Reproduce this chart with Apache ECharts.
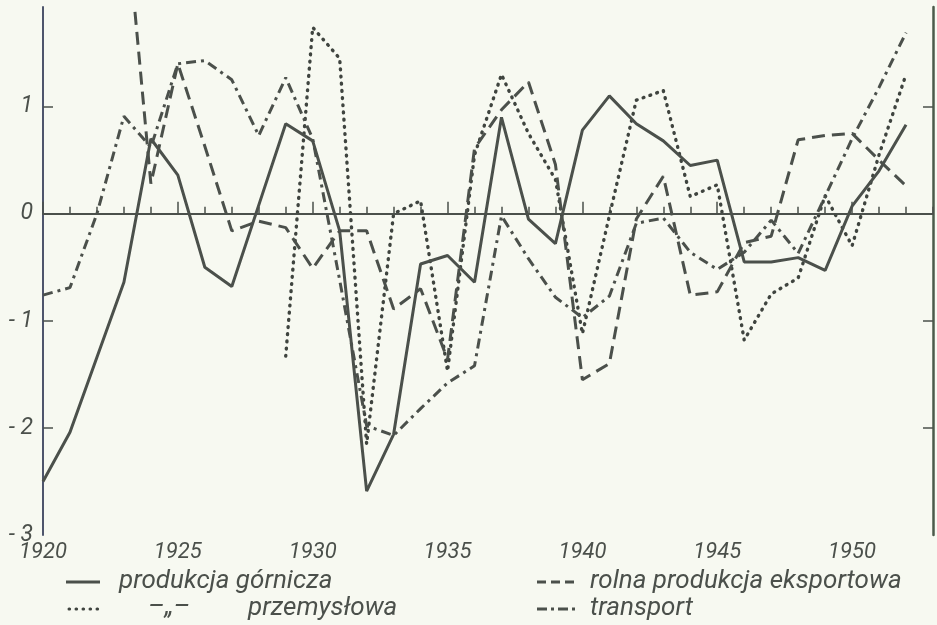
<!DOCTYPE html>
<html>
<head>
<meta charset="utf-8">
<script src="https://cdn.jsdelivr.net/npm/echarts@6/dist/echarts.min.js"></script>
<style>
  html, body { margin: 0; padding: 0; background: #f7f9f1; }
  #chart { width: 937px; height: 625px; }
</style>
</head>
<body>
<div id="chart"></div>
<script>
// ---- data ----
const years = [1920,1921,1922,1923,1924,1925,1926,1927,1928,1929,
               1930,1931,1932,1933,1934,1935,1936,1937,1938,1939,
               1940,1941,1942,1943,1944,1945,1946,1947,1948,1949,
               1950,1951,1952];

const produkcjaGornicza = [-2.50,-2.04,-1.34,-0.64,0.70,0.36,-0.50,-0.68,0.08,0.84,
                           0.68,-0.16,-2.59,-2.06,-0.47,-0.39,-0.64,0.90,-0.05,-0.28,
                           0.78,1.10,0.84,0.68,0.45,0.50,-0.45,-0.45,-0.41,-0.53,
                           0.07,0.40,0.83];

const rolnaEksportowa = [null,null,null,3.00,0.28,1.40,0.63,-0.16,-0.07,-0.13,
                         -0.51,-0.16,-0.16,-0.89,-0.70,-1.36,0.61,0.97,1.23,0.46,
                         -1.55,-1.40,-0.05,0.35,-0.76,-0.73,-0.27,-0.21,0.69,0.73,
                         0.75,0.50,0.26];

const przemyslowa = [null,null,null,null,null,null,null,null,null,-1.33,
                     1.74,1.45,-2.15,0.00,0.12,-1.47,0.55,1.30,0.75,0.32,
                     -1.12,-0.02,1.06,1.15,0.16,0.27,-1.18,-0.75,-0.60,0.17,
                     -0.30,0.55,1.30];

const transport = [-0.76,-0.69,0.00,0.91,0.62,1.40,1.43,1.25,0.73,1.27,
                   0.70,-0.62,-1.98,-2.07,-1.82,-1.58,-1.42,-0.02,-0.42,-0.78,
                   -0.97,-0.77,-0.09,-0.04,-0.36,-0.52,-0.36,-0.06,-0.37,0.16,
                   0.70,1.18,1.69];

const xTickLabels = [1920,1925,1930,1935,1940,1945,1950];
const yTickLabels = [-3,-2,-1,0,1];
const yInnerTicks = [-2,-1,1];

const legendNames = ['produkcja górnicza','rolna produkcja eksportowa','przemysłowa','transport'];
const dittoMark = '–„–';

// ---- style ----
const ink = '#4b504b';
const font = 'Roboto, "DejaVu Sans Condensed", "DejaVu Sans", sans-serif';

function pairs(arr) { return years.map((y, i) => [y, arr[i]]); }

const chart = echarts.init(document.getElementById('chart'), null, { renderer: 'canvas' });

const lineCommon = { type: 'line', symbol: 'none', connectNulls: false, animation: false, clip: true };

const option = {
  backgroundColor: '#f7f9f1',
  animation: false,
  grid: { left: 43, right: 4, top: 7, bottom: 90 },
  xAxis: [
    {
      type: 'value', min: 1920, max: 1953, interval: 1,
      axisLine: { show: true, lineStyle: { color: ink, width: 2 } },
      axisTick: { show: true, inside: true, length: 7, lineStyle: { color: ink, width: 1.5 } },
      axisLabel: {
        show: true, customValues: xTickLabels, margin: 6,
        formatter: v => String(v),
        color: ink, fontFamily: font, fontStyle: 'italic', fontWeight: 'normal', fontSize: 22
      },
      splitLine: { show: false }
    },
    {
      type: 'value', min: 1920, max: 1953, position: 'bottom',
      axisLine: { show: false },
      axisTick: { show: true, inside: true, length: 12, customValues: xTickLabels, lineStyle: { color: ink, width: 1.5 } },
      axisLabel: { show: false },
      splitLine: { show: false }
    }
  ],
  yAxis: [
    {
      type: 'value', min: -3, max: 1.93, position: 'left',
      axisLine: { show: true, lineStyle: { color: '#4e556c', width: 2 } },
      axisTick: { show: true, inside: true, length: 10, customValues: yInnerTicks, lineStyle: { color: ink, width: 1.5 } },
      axisLabel: {
        show: true, customValues: yTickLabels, margin: 10,
        formatter: v => (v < 0 ? '- ' + Math.abs(v) : String(v)),
        color: ink, fontFamily: font, fontStyle: 'italic', fontWeight: 'normal', fontSize: 23
      },
      splitLine: { show: false }
    },
    {
      type: 'value', min: -3, max: 1.93, position: 'right',
      axisLine: { show: true, lineStyle: { color: '#4b5a4a', width: 2.5 } },
      axisTick: { show: true, inside: true, length: 10, customValues: yInnerTicks, lineStyle: { color: ink, width: 1.5 } },
      axisLabel: { show: false },
      splitLine: { show: false }
    }
  ],
  series: [
    Object.assign({}, lineCommon, {
      name: legendNames[0], data: pairs(produkcjaGornicza), z: 5,
      lineStyle: { color: ink, width: 3, type: 'solid' },
      markLine: {
        silent: true, symbol: ['none', 'none'], animation: false,
        label: { show: false },
        lineStyle: { color: ink, width: 1.6, type: 'solid' },
        data: [{ yAxis: 0 }]
      }
    }),
    Object.assign({}, lineCommon, {
      name: legendNames[1], data: pairs(rolnaEksportowa), z: 4,
      lineStyle: { color: ink, width: 3, type: [13, 7] }
    }),
    Object.assign({}, lineCommon, {
      name: legendNames[2], data: pairs(przemyslowa), z: 3,
      lineStyle: { color: '#3f443f', width: 3.4, type: [0.8, 6.4], cap: 'round' }
    }),
    Object.assign({}, lineCommon, {
      name: legendNames[3], data: pairs(transport), z: 3,
      lineStyle: { color: ink, width: 3, type: [10, 5, 3, 5] }
    })
  ],
  graphic: [
    // row 1
    { type: 'line', shape: { x1: 66, y1: 582, x2: 100, y2: 582 }, style: { stroke: ink, lineWidth: 3 } },
    { type: 'text', x: 119, y: 581, style: { text: legendNames[0], fill: ink, font: 'italic 400 26px ' + font, verticalAlign: 'middle' } },
    { type: 'line', shape: { x1: 537, y1: 582, x2: 575, y2: 582 }, style: { stroke: ink, lineWidth: 3, lineDash: [9, 5] } },
    { type: 'text', x: 590, y: 581, style: { text: legendNames[1], fill: ink, font: 'italic 400 26px ' + font, verticalAlign: 'middle' } },
    // row 2
    { type: 'line', shape: { x1: 69, y1: 609, x2: 98, y2: 609 }, style: { stroke: '#3f443f', lineWidth: 3, lineDash: [0.6, 6.4], lineCap: 'round' } },
    { type: 'text', x: 148, y: 607, style: { text: dittoMark, fill: ink, font: 'italic 400 26px ' + font, verticalAlign: 'middle' } },
    { type: 'text', x: 248, y: 608, style: { text: legendNames[2], fill: ink, font: 'italic 400 26px ' + font, verticalAlign: 'middle' } },
    { type: 'line', shape: { x1: 537, y1: 609, x2: 575, y2: 609 }, style: { stroke: ink, lineWidth: 3, lineDash: [10, 4, 3, 4] } },
    { type: 'text', x: 590, y: 608, style: { text: legendNames[3], fill: ink, font: 'italic 400 26px ' + font, verticalAlign: 'middle' } }
  ]
};

chart.setOption(option);
</script>
</body>
</html>
